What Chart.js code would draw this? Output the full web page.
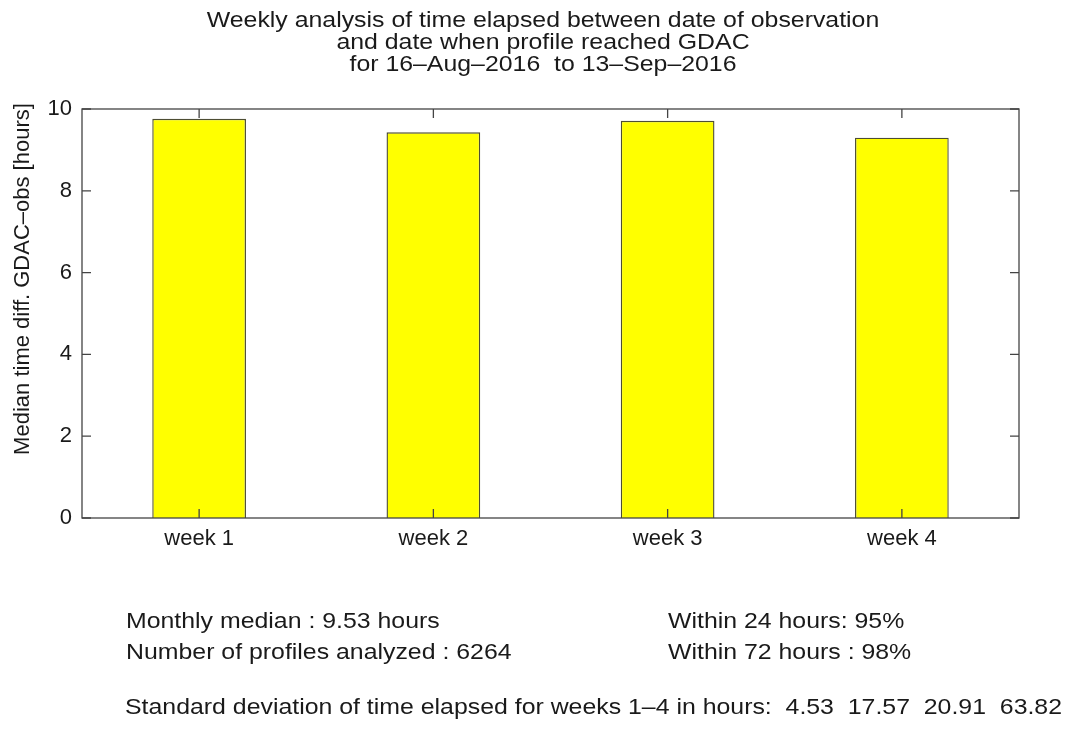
<!DOCTYPE html>
<html>
<head>
<meta charset="utf-8">
<script src="https://cdn.jsdelivr.net/npm/chart.js@4"></script>
<style>
  html,body{margin:0;padding:0;background:#fff;}
  #wrap{width:1082px;height:734px;position:relative;}
</style>
</head>
<body>
<div id="wrap"><canvas id="chart" width="1082" height="734"></canvas></div>
<script>
// data
const weeks = ['week 1','week 2','week 3','week 4'];
const medianHours = [9.76, 9.43, 9.71, 9.30];
const yMax = 10;
const titleLines = [
  'Weekly analysis of time elapsed between date of observation',
  'and date when profile reached GDAC',
  'for 16\u2013Aug\u20132016  to 13\u2013Sep\u20132016'
];
const yLabel = 'Median time diff. GDAC\u2013obs [hours]';
const monthlyMedian = 9.53;
const profilesAnalyzed = 6264;
const within24 = 95;
const within72 = 98;
const stdDevs = ['4.53','17.57','20.91','63.82'];

const FONT = '"Liberation Sans", Arial, Helvetica, sans-serif';
const TXT = '#1a1a1a';
const SX = 1.13; // text in the figure is a bit wide

function wideText(ctx, s, x, y, align){
  ctx.save();
  ctx.translate(x, y);
  ctx.scale(SX, 1);
  ctx.textAlign = align || 'left';
  ctx.fillText(s, 0, 0);
  ctx.restore();
}

// box, inward ticks, titles and notes
const decor = {
  id:'decor',
  afterDatasetsDraw(chart){
    const {ctx, chartArea:a, scales:{x, y}} = chart;
    ctx.save();
    ctx.strokeStyle = '#444';
    ctx.lineWidth = 1.3;
    ctx.strokeRect(a.left, a.top, a.right - a.left, a.bottom - a.top);
    ctx.beginPath();
    y.ticks.forEach(t => {
      const py = y.getPixelForValue(t.value);
      ctx.moveTo(a.left, py); ctx.lineTo(a.left + 9, py);
      ctx.moveTo(a.right, py); ctx.lineTo(a.right - 9, py);
    });
    weeks.forEach((w, i) => {
      const px = x.getPixelForValue(i);
      ctx.moveTo(px, a.top); ctx.lineTo(px, a.top + 9);
      ctx.moveTo(px, a.bottom); ctx.lineTo(px, a.bottom - 9);
    });
    ctx.stroke();

    ctx.fillStyle = TXT;
    ctx.font = '22px ' + FONT;
    ctx.textBaseline = 'middle';
    titleLines.forEach((s, i) => wideText(ctx, s, 543, 21 + i * 22, 'center'));

    // y axis title
    ctx.save();
    ctx.translate(23, 279);
    ctx.rotate(-Math.PI / 2);
    ctx.textAlign = 'center';
    ctx.fillText(yLabel, 0, 0);
    ctx.restore();

    // notes under the plot
    wideText(ctx, 'Monthly median : ' + monthlyMedian.toFixed(2) + ' hours', 126, 622);
    wideText(ctx, 'Number of profiles analyzed : ' + profilesAnalyzed, 126, 653);
    wideText(ctx, 'Within 24 hours: ' + within24 + '%', 668, 622);
    wideText(ctx, 'Within 72 hours : ' + within72 + '%', 668, 653);
    wideText(ctx, 'Standard deviation of time elapsed for weeks 1\u20134 in hours:  ' + stdDevs.join('  '), 125, 708);
    ctx.restore();
  }
};

new Chart(document.getElementById('chart'), {
  type:'bar',
  data:{
    labels:weeks,
    datasets:[{
      data:medianHours,
      backgroundColor:'#ffff00',
      borderColor:'#4d4d33',
      borderWidth:1.4,
      barPercentage:0.4,
      categoryPercentage:1
    }]
  },
  options:{
    responsive:false,
    animation:false,
    devicePixelRatio:1,
    layout:{padding:{top:109, right:63, bottom:186, left:0}},
    plugins:{legend:{display:false}, tooltip:{enabled:false}, title:{display:false}},
    scales:{
      x:{
        grid:{display:false, drawTicks:false},
        border:{display:false},
        ticks:{color:TXT, font:{family:FONT, size:22}, padding:8},
        afterFit(s){ s.height = 30; }
      },
      y:{
        min:0, max:yMax,
        grid:{display:false, drawTicks:false},
        border:{display:false},
        ticks:{stepSize:2, color:TXT, font:{family:FONT, size:22}, padding:10},
        afterFit(s){ s.width = 82; }
      }
    }
  },
  plugins:[decor]
});
</script>
</body>
</html>
